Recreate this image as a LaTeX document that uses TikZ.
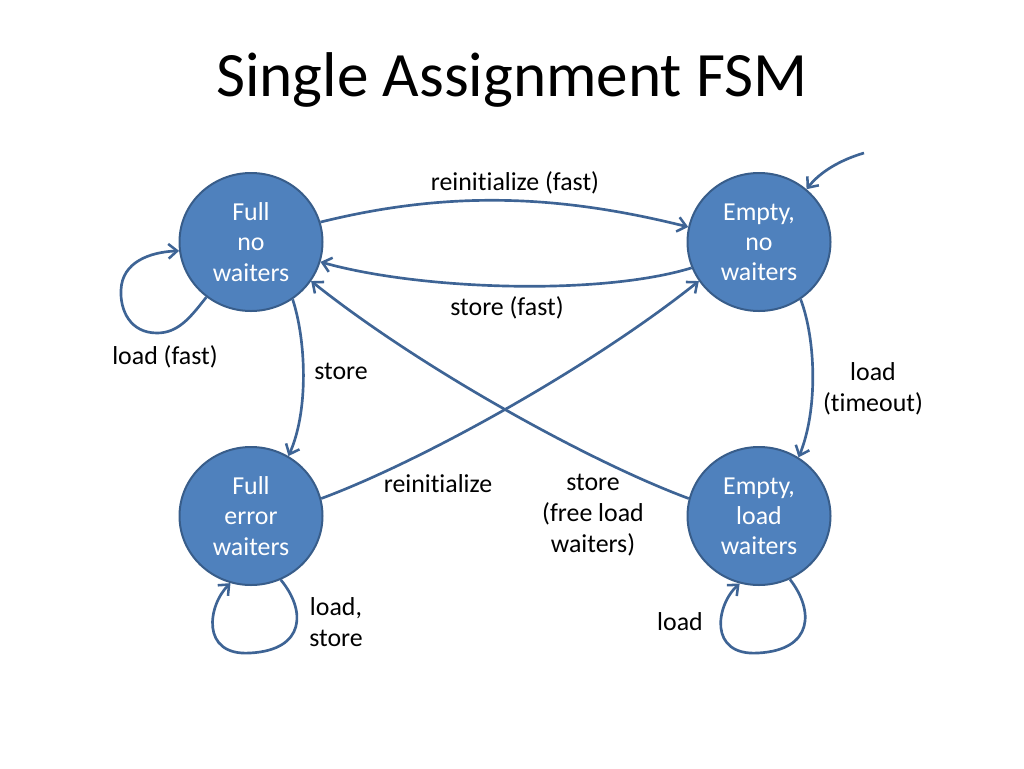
\documentclass[tikz,border=0pt]{standalone}
\usepackage{fontspec}
\setmainfont{Carlito}[Ligatures=NoCommon]
\usetikzlibrary{shapes.geometric,arrows.meta}
\definecolor{statefill}{HTML}{4F81BD}
\definecolor{statedraw}{HTML}{385D8A}
\definecolor{edgecol}{HTML}{3E6495}
\tikzset{
  state/.style={ellipse,fill=statefill,draw=statedraw,line width=1.5pt,
    minimum width=143*0.75pt,minimum height=138*0.75pt,inner sep=0pt,
    text=white,align=center,font=\fontsize{19.4pt}{22.6pt}\selectfont},
  lbl/.style={align=center,text=black,font=\fontsize{19.4pt}{23pt}\selectfont},
  trans/.style={draw=edgecol,line width=2pt,
    -{Straight Barb[length=6.5pt,width=11pt,line width=1.9pt]}},
}
\begin{document}
\begin{tikzpicture}[x=0.75pt,y=-0.75pt]
\useasboundingbox (0,0) rectangle (1024,768);
\node[font=\fontsize{47.4pt}{56pt}\selectfont] (title) at (512,80) {Single Assignment FSM};

\node[state] (F)  at (251,242) {Full\\no\\waiters};
\node[state] (E)  at (759,242) {Empty,\\no\\waiters};
\node[state] (FE) at (251,516) {Full\\error\\waiters};
\node[state] (EL) at (759,516) {Empty,\\load\\waiters};
\coordinate (init) at (864,153);

% transitions
\draw[trans] (F.16) .. controls (450,190) and (560,195) .. (E.168);
\draw[trans] (E.201) .. controls (600,296) and (420,290) .. (F.-16);
\draw[trans] (EL.166) .. controls (590,462) and (420,368) .. (F.-33);
\draw[trans] (FE.14) .. controls (420,462) and (590,368) .. (E.213);
\draw[trans] (F.-54) .. controls (306,340) and (309,410) .. (FE.58);
\draw[trans] (E.-54) .. controls (816,340) and (818,410) .. (EL.56);
\draw[trans] (init) .. controls (840,160) and (820,172) .. (E.48);
% loops
\draw[trans] (F.-129) .. controls (190,318) and (178,333) .. (157,333)
  .. controls (130,333) and (120,310) .. (121,290)
  .. controls (122,262) and (150,252) .. (F.187);
\draw[trans] (FE.-65) .. controls (306,610) and (306,650) .. (250,653)
  .. controls (200,656) and (208,605) .. (FE.-107);
\draw[trans] (EL.-64) .. controls (814,610) and (814,650) .. (758,653)
  .. controls (708,656) and (716,605) .. (EL.-106);

% labels
\node[lbl] (l1) at (515,183) {reinitialize (fast)};
\node[lbl] (l2) at (507,308) {store (fast)};
\node[lbl] (l3) at (165,357) {load (fast)};
\node[lbl] (l4) at (341,371) {store};
\node[lbl] (l5) at (873,389) {load\\(timeout)};
\node[lbl] (l6) at (438,484) {reinitialize};
\node[lbl] (l7) at (593,515) {store\\(free load\\waiters)};
\node[lbl] (l8) at (336,622) {load,\\store};
\node[lbl] (l9) at (680,622) {load};
\end{tikzpicture}
\end{document}
